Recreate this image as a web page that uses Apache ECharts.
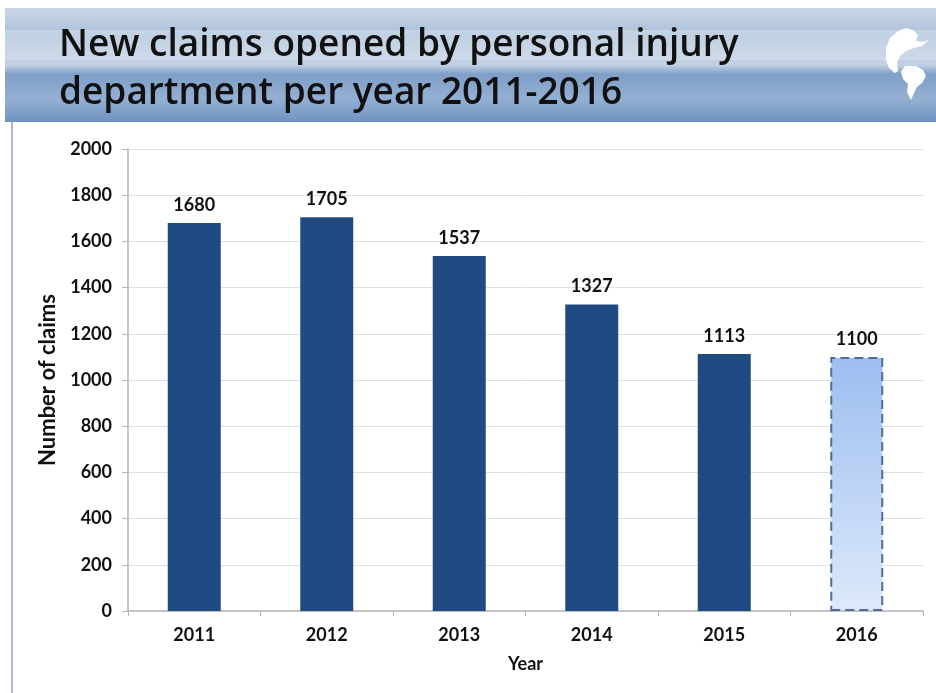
<!DOCTYPE html>
<html>
<head>
<meta charset="utf-8">
<script src="https://cdn.jsdelivr.net/npm/echarts@6/dist/echarts.min.js"></script>
<style>
  html, body { margin: 0; padding: 0; background: #ffffff; }
  #chart { width: 936px; height: 693px; }
</style>
</head>
<body>
<div id="chart"></div>
<script>
// Claims opened per year by the personal injury department
const years = ['2011', '2012', '2013', '2014', '2015', '2016'];
const claims = [1680, 1705, 1537, 1327, 1113, 1100];
const projectedYear = '2016';           // drawn as a light, dashed estimate bar
const yTicks = [0, 200, 400, 600, 800, 1000, 1200, 1400, 1600, 1800, 2000];

const chart = echarts.init(document.getElementById('chart'));

const barData = years.map((y, i) => {
  if (y !== projectedYear) return claims[i];
  return {
    value: claims[i],
    itemStyle: {
      color: new echarts.graphic.LinearGradient(0, 0, 0, 1, [
        { offset: 0, color: '#9dbdf0' },
        { offset: 1, color: '#dde9fb' }
      ]),
      borderColor: '#4d6f9c',
      borderWidth: 2,
      borderType: [9, 5]
    }
  };
});

const boldFont = { fontFamily: 'Lato', fontWeight: 'bold', color: '#111111' };

chart.setOption({
  backgroundColor: '#ffffff',
  animation: false,
  graphic: [
    // banner strip behind the title
    {
      type: 'rect', z: -10, silent: true,
      shape: { x: 5, y: 8, width: 931, height: 114 },
      style: {
        fill: new echarts.graphic.LinearGradient(0, 0, 0, 1, [
          { offset: 0, color: '#c9d6e6' },
          { offset: 0.25, color: '#aabfd9' },
          { offset: 0.5, color: '#c3d1e2' },
          { offset: 0.58, color: '#7f9fc8' },
          { offset: 0.8, color: '#94afd2' },
          { offset: 1, color: '#6f93c1' }
        ])
      }
    },
    // soft haze band across the horizon
    {
      type: 'rect', z: -9, silent: true,
      shape: { x: 5, y: 30, width: 931, height: 30 },
      style: { fill: 'rgba(235,240,247,0.35)' }
    },
    // dolphin emblem: upper arcing body
    {
      type: 'polygon', z: -5, silent: true,
      shape: {
        points: [[906, 28], [898, 31], [890, 38], [886, 48], [886, 60], [889, 68], [895, 73],
                 [898, 71], [897, 63], [900, 56], [906, 51], [914, 48], [922, 46], [929, 40],
                 [922, 42], [916, 41], [918, 35], [913, 30]]
      },
      style: { fill: '#ffffff' }
    },
    // dolphin emblem: lower leaping body
    {
      type: 'polygon', z: -5, silent: true,
      shape: {
        points: [[905, 66], [901, 72], [903, 79], [908, 84], [907, 92], [911, 100], [914, 93],
                 [917, 87], [922, 83], [926, 76], [923, 70], [916, 66]]
      },
      style: { fill: '#ffffff' }
    },
    // slide frame line on the left
    {
      type: 'line', silent: true,
      shape: { x1: 12, y1: 122, x2: 12, y2: 693 },
      style: { stroke: '#8fa2bf', lineWidth: 1.5 }
    }
  ],
  title: {
    text: 'New claims opened by personal injury\ndepartment per year 2011-2016',
    left: 54, top: 16,
    textStyle: {
      fontFamily: 'Open Sans', fontWeight: 600, fontSize: 37,
      lineHeight: 48, color: '#111111'
    }
  },
  grid: { left: 128, right: 13, top: 149, bottom: 82 },
  xAxis: {
    type: 'category',
    data: years,
    name: 'Year',
    nameLocation: 'middle',
    nameGap: 44,
    nameTextStyle: { ...boldFont, fontSize: 18 },
    axisLine: { lineStyle: { color: '#b5b5b5', width: 1.5 } },
    axisTick: { show: true, length: 5, lineStyle: { color: '#b5b5b5' } },
    axisLabel: { ...boldFont, fontSize: 18, margin: 15 }
  },
  yAxis: {
    type: 'value',
    min: 0, max: 2000, interval: 200,
    name: 'Number of claims',
    nameLocation: 'middle',
    nameGap: 66,
    nameRotate: 90,
    nameTextStyle: { ...boldFont, fontSize: 22 },
    axisLine: { show: true, lineStyle: { color: '#b5b5b5', width: 1.5 } },
    axisTick: { show: true, length: 6, lineStyle: { color: '#b5b5b5' } },
    axisLabel: {
      ...boldFont, fontSize: 18, margin: 16,
      formatter: v => (yTicks.includes(v) ? String(v) : '')
    },
    splitLine: { lineStyle: { color: '#e0e0e0', width: 1 } }
  },
  series: [{
    type: 'bar',
    data: barData,
    barWidth: '40%',
    itemStyle: { color: '#1f4b82' },
    label: {
      show: true, position: 'top', distance: 9,
      ...boldFont, fontSize: 18
    }
  }]
});
</script>
</body>
</html>
